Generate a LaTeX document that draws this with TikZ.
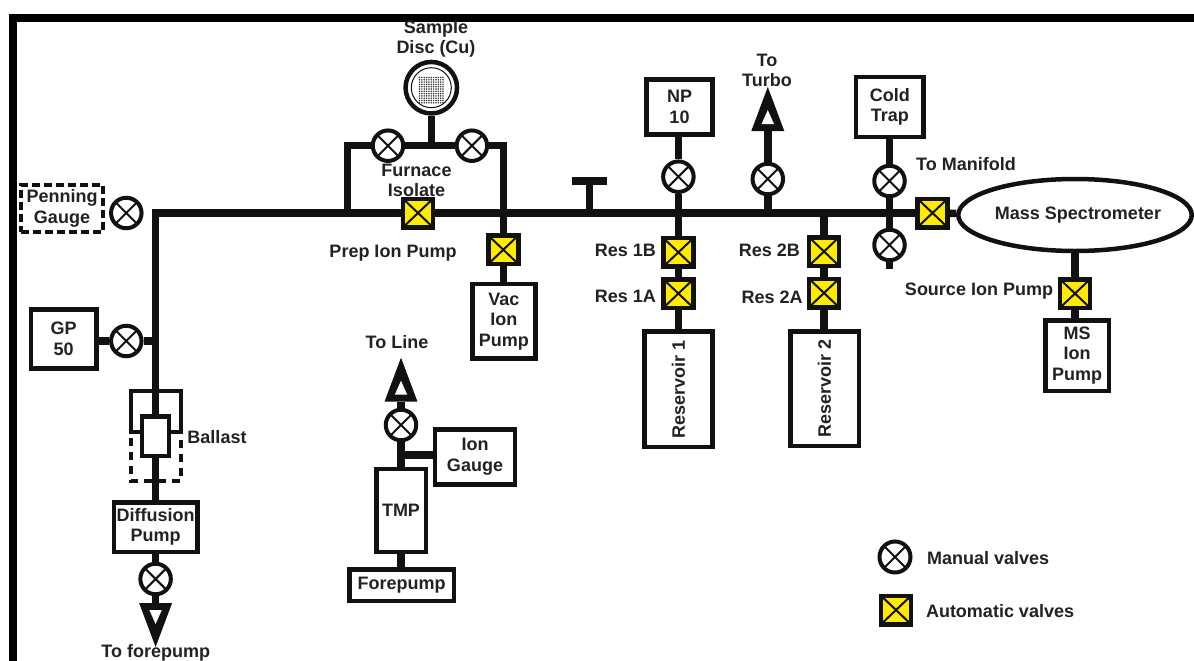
\documentclass[tikz,border=0pt]{standalone}
\usepackage{fontspec}
\setmainfont{Liberation Sans}
\usetikzlibrary{backgrounds,shapes.geometric}
\definecolor{ink}{HTML}{111111}
\definecolor{txt}{HTML}{222222}
\definecolor{valvey}{HTML}{FFEB00}
\tikzset{
  x=1pt,y=-1pt,
  lbl/.style={text=txt,font=\bfseries\fontsize{18}{20.5}\selectfont,align=center,inner sep=0pt,outer sep=0pt},
  box/.style={draw=ink,line width=4.5pt,fill=white,inner sep=0pt,text=txt,font=\bfseries\fontsize{18}{20.5}\selectfont,align=center},
  pipe/.style={draw=ink,line width=7.5pt},
  manual/.style={circle,draw=ink,fill=white,line width=4pt,minimum size=30.5pt,inner sep=0pt,
    path picture={\draw[ink,line width=2pt]
      ([shift={(-12,-12)}]path picture bounding box.center) -- ([shift={(12,12)}]path picture bounding box.center)
      ([shift={(-12,12)}]path picture bounding box.center) -- ([shift={(12,-12)}]path picture bounding box.center);}},
  auto/.style={rectangle,draw=ink,fill=valvey,line width=4.5pt,minimum width=30pt,minimum height=28.5pt,inner sep=0pt,
    path picture={\draw[ink,line width=2pt]
      (path picture bounding box.north west) -- (path picture bounding box.south east)
      (path picture bounding box.south west) -- (path picture bounding box.north east);}},
  hollowtip/.pic={
    \fill[ink] (-16.5,0) -- (0,-44) -- (16.5,0) -- cycle;
    \fill[white] (-6.2,-7) -- (0,-21) -- (6.2,-7) -- cycle;
  }
}
\begin{document}
\begin{tikzpicture}
\useasboundingbox (0,0) rectangle (1194,661);
% coordinates
\coordinate (corner) at (155.6,213);
\coordinate (j1) at (347.5,213);
\coordinate (c1) at (347.5,145.7);
\coordinate (c2) at (503.3,145.7);
\coordinate (stem) at (431.3,145.7);
\coordinate (tj) at (589.4,213);
\coordinate (ttop) at (589.4,181);
\coordinate (tl) at (572,181);
\coordinate (tr) at (607,181);
\coordinate (jgp) at (155.6,341);
\coordinate (jnp) at (678.4,213);
\coordinate (jturbo) at (767.8,213);
\coordinate (jres2) at (824,213);
\coordinate (jcold) at (889.5,213);
\coordinate (coldend) at (889.5,268.5);
\coordinate (tb1) at (767.8,131);
\coordinate (tb2) at (401,401.7);
\coordinate (tb3) at (155.6,603);
\coordinate (jgauge) at (401,455);
\coordinate (bl1) at (131,432);
\coordinate (bl2) at (131,391);
\coordinate (bl3) at (181,391);
\coordinate (bl4) at (181,432);
\coordinate (bd1) at (131,438);
\coordinate (bd2) at (131,481);
\coordinate (bd3) at (181,481);
\coordinate (bd4) at (181,438);
% boxes
\node[box,dash pattern=on 8pt off 4pt,minimum width=82pt,minimum height=47pt] (penning) at (62,208.4) {Penning\\Gauge};
\node[box,minimum width=65.5pt,minimum height=59pt] (gp) at (63.7,339) {GP\\50};
\node[box,minimum width=27pt,minimum height=39.5pt] (inner) at (155.6,436) {};
\node[box,minimum width=83.5pt,minimum height=49.5pt] (diff) at (155.6,527) {Diffusion\\Pump};
\node[box,minimum width=49.5pt,minimum height=83pt] (tmp) at (401,510.3) {TMP};
\node[box,minimum width=104.5pt,minimum height=31.5pt] (fore) at (401.5,585) {Forepump};
\node[box,minimum width=80.4pt,minimum height=55pt] (iong) at (475,456.8) {Ion\\Gauge};
\node[box,minimum width=63pt,minimum height=74.5pt] (vac) at (503.8,321.2) {Vac\\Ion\\Pump};
\node[box,minimum width=66pt,minimum height=55pt] (np) at (679.5,107) {NP\\10};
\node[box,minimum width=67.5pt,minimum height=60pt] (cold) at (889.8,106.8) {Cold\\Trap};
\node[box,minimum width=68pt,minimum height=115.5pt] (res1) at (678.4,389) {\rotatebox{90}{Reservoir 1}};
\node[box,minimum width=68.5pt,minimum height=114.5pt] (res2) at (824.5,388.5) {\rotatebox{90}{Reservoir 2}};
\node[box,minimum width=63.5pt,minimum height=70.5pt] (msion) at (1077,355.5) {MS\\Ion\\Pump};
\node[draw=ink,fill=white,line width=4.5pt,circle,minimum size=51.5pt,inner sep=0pt] (disc) at (431.3,87.7) {};
\node[draw=ink,line width=1pt,circle,minimum size=40pt,inner sep=0pt] (discring) at (431.3,87.7) {};
\foreach \i in {0,...,10}{\foreach \j in {0,...,11}{
  \fill[ink!85!white] ({419.5+2.35*\i},{77.5+2.3*\j}) circle (0.85);
}}
% valves
\node[manual] (vpen) at (126.3,213) {};
\node[manual] (vgp) at (126.3,341) {};
\node[manual] (vdiff) at (155.6,579) {};
\node[manual] (vline) at (401,425) {};
\node[manual] (vs1) at (388,145.7) {};
\node[manual] (vs2) at (471.9,145.7) {};
\node[manual] (vnp) at (678.4,176.7) {};
\node[manual] (vturbo) at (767.8,179) {};
\node[manual] (vcold) at (889.5,181) {};
\node[manual] (vlow) at (889.5,245) {};
\node[auto] (afurn) at (418,213) {};
\node[auto] (avac) at (503.3,249.7) {};
\node[auto] (a1b) at (678.4,252.3) {};
\node[auto] (a1a) at (678.4,293.5) {};
\node[auto] (a2b) at (824,251.5) {};
\node[auto] (a2a) at (824,293) {};
\node[auto] (aman) at (932.5,213) {};
\node[auto] (asrc) at (1075,293.5) {};
% mass spectrometer
\node[draw=ink,fill=white,line width=4.5pt,ellipse,minimum width=233.5pt,minimum height=72pt,inner sep=0pt] (ms) at (1075,215) {};
% connectors
\begin{scope}[on background layer]
\fill[white] (0,0) rectangle (1194,661);
\draw[draw=black,line width=8pt,line cap=butt] (13,661) -- (13,17.7) -- (1194,17.7);
\draw[pipe] (inner.north) -- (corner) -- (j1) -- (afurn) -- (tj) -- (jnp) -- (jturbo) -- (jres2) -- (jcold) -- (aman);
\draw[pipe] (j1) -- (c1) -- (vs1) -- (stem) -- (vs2) -- (c2) -- (avac);
\draw[pipe] (disc) -- (stem);
\draw[pipe] (avac) -- (avac |- vac.north);
\draw[pipe] (tj) -- (ttop);
\draw[pipe] (tl) -- (tr);
\draw[pipe] (vgp) -- (vgp -| gp.east);
\draw[pipe] (vgp) -- (jgp);
\draw[pipe] (vnp |- np.south) -- (vnp);
\draw[pipe] (vnp) -- (jnp);
\draw[pipe] (jnp) -- (a1b);
\draw[pipe] (a1b) -- (a1a);
\draw[pipe] (a1a) -- (res1);
\draw[pipe] (jturbo) -- (vturbo);
\draw[pipe] (vturbo) -- (tb1);
\draw[pipe] (jres2) -- (a2b);
\draw[pipe] (a2b) -- (a2a);
\draw[pipe] (a2a) -- (a2a |- res2.north);
\draw[pipe] (vcold |- cold.south) -- (vcold);
\draw[pipe] (vcold) -- (jcold);
\draw[pipe] (jcold) -- (vlow);
\draw[pipe] (vlow) -- (coldend);
\draw[pipe] (aman) -- (ms);
\draw[pipe] (ms) -- (asrc);
\draw[pipe] (asrc) -- (asrc |- msion.north);
\draw[pipe] (inner) -- (diff);
\draw[pipe] (diff) -- (vdiff);
\draw[pipe] (vdiff) -- (tb3);
\draw[pipe] (vline) -- (tb2);
\draw[pipe] (vline) -- (tmp);
\draw[pipe] (jgauge) -- (iong.west |- jgauge);
\draw[pipe] (tmp) -- (tmp |- fore.north);
\draw[draw=ink,line width=4.5pt] (inner.west |- bl1) -- (bl1) -- (bl2) -- (bl3) -- (bl4) -- (inner.east |- bl4);
\draw[draw=ink,line width=4.5pt,dash pattern=on 8pt off 6pt] (bd1) -- (bd2) -- (bd3) -- (bd4);
\end{scope}
\pic at (tb1) {hollowtip};
\pic at (tb2) {hollowtip};
\pic[yscale=-1] at (tb3) {hollowtip};
% labels
\node[lbl] (lsample) at (436,39) {Sample\\Disc (Cu)};
\node[lbl] (lfurn) at (416.5,180.5) {Furnace\\Isolate};
\node[lbl] (lprep) at (393,253) {Prep Ion Pump};
\node[lbl,anchor=east] (l1b) at (656,250.7) {Res 1B};
\node[lbl,anchor=east] (l1a) at (656,296.5) {Res 1A};
\node[lbl,anchor=east] (l2b) at (800,250) {Res 2B};
\node[lbl,anchor=east] (l2a) at (802.6,297) {Res 2A};
\node[lbl] (lturbo) at (767,70.5) {To\\Turbo};
\node[lbl] (lmani) at (966,164) {To Manifold};
\node[lbl] (lmass) at (1078,215) {Mass Spectrometer};
\node[lbl,anchor=east] (lsrc) at (1053,290.7) {Source Ion Pump};
\node[lbl] (lball) at (217,437) {Ballast};
\node[lbl] (lline) at (397,342) {To Line};
\node[lbl] (lfore) at (155.8,652.5) {To forepump};
\node[manual,minimum size=31pt] (legm) at (895,557) {};
\node[auto] (lega) at (896,610) {};
\node[lbl,anchor=west] (ltm) at (927,558) {Manual valves};
\node[lbl,anchor=west] (lta) at (926,611.5) {Automatic valves};
\end{tikzpicture}
\end{document}
